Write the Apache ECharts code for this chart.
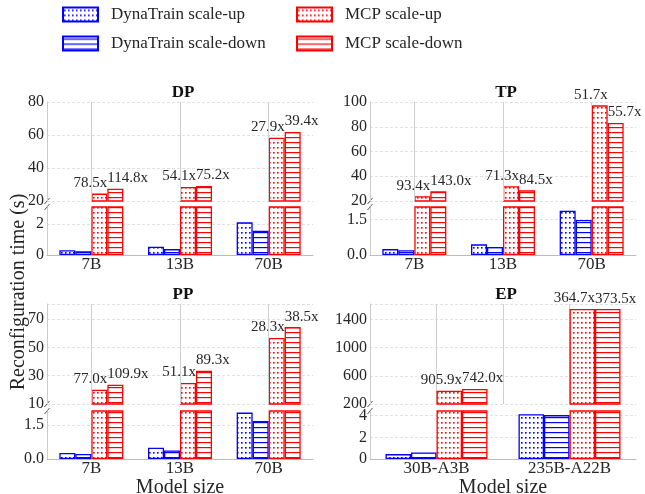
<!DOCTYPE html>
<html>
<head>
<meta charset="utf-8">
<script src="https://cdn.jsdelivr.net/npm/echarts@6/dist/echarts.min.js"></script>
<style>
  html, body { margin: 0; padding: 0; background: #fff; }
  #chart { width: 645px; height: 494px; }
</style>
</head>
<body>
<div id="chart"></div>
<script>
  // categories
  const modelSizes = ["7B", "13B", "70B"];
  const moeSizes = ["30B-A3B", "235B-A22B"];

  // DP (s)
  const dpDynaUp = [0.31, 0.53, 2.11];
  const dpDynaDown = [0.24, 0.38, 1.56];
  const dpMcpUp = [24.5, 28.5, 58.4];
  const dpMcpDown = [27.5, 29.1, 61.8];
  const dpSpeedUp = [78.5, 54.1, 27.9];
  const dpSpeedDown = [114.8, 75.2, 39.4];

  // TP
  const tpDynaUp = [0.25, 0.45, 1.87];
  const tpDynaDown = [0.2, 0.34, 1.48];
  const tpMcpUp = [23.8, 31.9, 97.3];
  const tpMcpDown = [27.8, 28.6, 83.0];
  const tpSpeedUp = [93.4, 71.3, 51.7];
  const tpSpeedDown = [143.0, 84.5, 55.7];

  // PP
  const ppDynaUp = [0.27, 0.5, 2.05];
  const ppDynaDown = [0.22, 0.38, 1.68];
  const ppMcpUp = [20.1, 24.8, 56.6];
  const ppMcpDown = [23.6, 33.5, 64.3];
  const ppSpeedUp = [77.0, 51.1, 28.3];
  const ppSpeedDown = [109.9, 89.3, 38.5];

  // EP
  const epDynaUp = [0.45, 4.13];
  const epDynaDown = [0.6, 4.05];
  const epMcpUp = [389, 1550];
  const epMcpDown = [413, 1548];
  const epSpeedUp = [905.9, 364.7];
  const epSpeedDown = [742.0, 373.5];

  const BLUE = "#0000ff";
  const RED = "#ff0000";
  const FONT = "Liberation Serif";

  // hatch fills
  function makePattern(color, kind) {
    const c = document.createElement("canvas");
    c.width = 4;
    c.height = 5;
    const ctx = c.getContext("2d");
    ctx.fillStyle = "#fff";
    ctx.fillRect(0, 0, 4, 5);
    ctx.fillStyle = color;
    if (kind === "dots") {
      ctx.fillRect(1, 2, 1.6, 1.6);
    } else {
      ctx.fillRect(0, 2, 4, 1.2);
    }
    return { image: c, repeat: "repeat" };
  }

  const kinds = [
    { name: "DynaTrain scale-up", key: "dynaUp", color: BLUE, pat: "dots" },
    { name: "DynaTrain scale-down", key: "dynaDown", color: BLUE, pat: "lines" },
    { name: "MCP scale-up", key: "mcpUp", color: RED, pat: "dots", speed: "speedUp", align: "right" },
    { name: "MCP scale-down", key: "mcpDown", color: RED, pat: "lines", speed: "speedDown", align: "left" },
  ];

  const panels = [
    {
      title: "DP", cats: modelSizes,
      dynaUp: dpDynaUp, dynaDown: dpDynaDown, mcpUp: dpMcpUp, mcpDown: dpMcpDown,
      speedUp: dpSpeedUp, speedDown: dpSpeedDown,
      topMin: 20, topMax: 80, topStep: 20, lowMax: 3.1, lowStep: 2, digits: 0,
      left: 47, top: 102, topH: 99, lowTop: 207, lowH: 48, barW: 16, xName: "",
    },
    {
      title: "TP", cats: modelSizes,
      dynaUp: tpDynaUp, dynaDown: tpDynaDown, mcpUp: tpMcpUp, mcpDown: tpMcpDown,
      speedUp: tpSpeedUp, speedDown: tpSpeedDown,
      topMin: 20, topMax: 100, topStep: 20, lowMax: 2.03, lowStep: 1.5, digits: 1,
      left: 370, top: 102, topH: 99, lowTop: 207, lowH: 48, barW: 16, xName: "",
    },
    {
      title: "PP", cats: modelSizes,
      dynaUp: ppDynaUp, dynaDown: ppDynaDown, mcpUp: ppMcpUp, mcpDown: ppMcpDown,
      speedUp: ppSpeedUp, speedDown: ppSpeedDown,
      topMin: 10, topMax: 80.6, topStep: 20, lowMax: 2.12, lowStep: 1.5, digits: 1,
      left: 47, top: 304, topH: 100, lowTop: 411, lowH: 48, barW: 16, xName: "Model size",
    },
    {
      title: "EP", cats: moeSizes,
      dynaUp: epDynaUp, dynaDown: epDynaDown, mcpUp: epMcpUp, mcpDown: epMcpDown,
      speedUp: epSpeedUp, speedDown: epSpeedDown,
      topMin: 200, topMax: 1620, topStep: 400, lowMax: 4.43, lowStep: 2, digits: 0,
      left: 370, top: 304, topH: 100, lowTop: 411, lowH: 48, barW: 25.5, xName: "Model size",
    },
  ];

  const W = 266;
  const grid = [], xAxis = [], yAxis = [], series = [], title = [], graphic = [];

  const tickLabel = { fontFamily: FONT, fontSize: 16, color: "#262626", margin: 3 };
  const splitLine = {
    show: true, showMaxLine: false,
    lineStyle: { color: "#d9d9d9", type: [3, 2], width: 0.8 },
  };
  const guideLine = { color: "#cfcfcf", type: "solid", width: 1 };

  panels.forEach((p, i) => {
    const gTop = i * 2, gLow = i * 2 + 1;
    grid.push({ left: p.left, top: p.top, width: W, height: p.topH, outerBoundsMode: "none" });
    grid.push({ left: p.left, top: p.lowTop, width: W, height: p.lowH, outerBoundsMode: "none" });

    title.push({
      text: p.title, left: p.left + W / 2 - 2, top: p.top - 23, textAlign: "center",
      textStyle: { fontFamily: FONT, fontSize: 17, fontWeight: "bold", color: "#111" },
    });

    // axis break marks
    [p.top + p.topH, p.lowTop].forEach((y) => {
      graphic.push({
        type: "line", silent: true,
        shape: { x1: p.left - 2.5, y1: y + 3, x2: p.left + 2.5, y2: y - 3 },
        style: { stroke: "#444", lineWidth: 0.9 },
      });
    });

    xAxis.push({
      type: "category", gridIndex: gTop, data: p.cats,
      axisLine: { show: false }, axisTick: { show: false }, axisLabel: { show: false },
    });
    xAxis.push({
      type: "category", gridIndex: gLow, data: p.cats,
      axisLine: { lineStyle: { color: "#bbb", width: 1 } },
      axisTick: { show: false },
      axisLabel: { fontFamily: FONT, fontSize: 17, color: "#262626", margin: 1 },
      name: p.xName, nameLocation: "middle", nameGap: 17,
      nameTextStyle: { fontFamily: FONT, fontSize: 20, color: "#262626" },
    });

    yAxis.push({
      type: "value", gridIndex: gTop, min: p.topMin, max: p.topMax, interval: p.topStep,
      axisLine: { show: true, lineStyle: { color: "#ccc" } },
      axisTick: { show: false },
      axisLabel: Object.assign({
        showMaxLabel: (p.topMax - p.topMin) % p.topStep === 0,
        formatter: (v) => String(v),
      }, tickLabel),
      splitLine: Object.assign({}, splitLine, { showMaxLine: true }),
    });
    yAxis.push({
      type: "value", gridIndex: gLow, min: 0, max: p.lowMax, interval: p.lowStep,
      axisLine: { show: true, lineStyle: { color: "#ccc" } },
      axisTick: { show: false },
      axisLabel: Object.assign({ showMaxLabel: false, formatter: (v) => v.toFixed(p.digits) }, tickLabel),
      splitLine: splitLine,
    });

    // vertical guides at the category centres (top part only)
    if (p.cats.length === 3) {
      series.push({
        type: "line", xAxisIndex: gTop, yAxisIndex: gTop, z: 1, silent: true,
        data: p.cats.map(() => "-"), showSymbol: false,
        markLine: {
          silent: true, symbol: "none", label: { show: false },
          lineStyle: guideLine,
          data: p.cats.map((c) => ({ xAxis: c })),
        },
      });
    }

    kinds.forEach((k) => {
      const vals = p[k.key];
      const itemStyle = { color: makePattern(k.color, k.pat), borderColor: k.color, borderWidth: 1.3 };
      const top = {
        name: k.name, type: "bar", xAxisIndex: gTop, yAxisIndex: gTop,
        barWidth: p.barW, barGap: "0%", z: 3,
        data: vals.map((v) => (v >= p.topMin ? v : "-")),
        itemStyle: itemStyle,
      };
      if (k.speed) {
        top.label = {
          show: true, position: "top", distance: 3, align: k.align,
          offset: [k.align === "right" ? p.barW / 2 : -p.barW / 2, 0],
          fontFamily: FONT, fontSize: 15, color: "#262626",
          formatter: (prm) => p[k.speed][prm.dataIndex].toFixed(1) + "x",
        };
      }
      series.push(top);
      series.push({
        name: k.name, type: "bar", xAxisIndex: gLow, yAxisIndex: gLow,
        barWidth: p.barW, barGap: "0%", z: 3,
        data: vals.slice(),
        itemStyle: itemStyle,
      });
    });
  });

  // EP vertical guides: hidden value axis on the EP top grid
  xAxis.push({
    type: "value", gridIndex: 6, min: 0, max: 4, interval: 1, position: "top",
    axisLine: { show: false }, axisTick: { show: false }, axisLabel: { show: false },
    splitLine: { show: true, showMinLine: false, showMaxLine: false, lineStyle: guideLine },
  });

  graphic.push({
    type: "text", x: 19, y: 292, rotation: Math.PI / 2,
    style: {
      text: "Reconfiguration time (s)", font: '20px "Liberation Serif"',
      fill: "#262626", align: "center", verticalAlign: "middle",
    },
  });

  const legendBase = {
    orient: "vertical", top: 6, padding: 0, itemWidth: 35, itemHeight: 14, itemGap: 12, icon: "rect",
    textStyle: { fontFamily: FONT, fontSize: 17, color: "#262626", padding: [0, 0, 0, 8] },
  };

  const chart = echarts.init(document.getElementById("chart"));
  chart.setOption({
    animation: false,
    backgroundColor: "#fff",
    title: title,
    legend: [
      Object.assign({ left: 62, data: ["DynaTrain scale-up", "DynaTrain scale-down"] }, legendBase),
      Object.assign({ left: 296, data: ["MCP scale-up", "MCP scale-down"] }, legendBase),
    ],
    grid: grid,
    xAxis: xAxis,
    yAxis: yAxis,
    series: series,
    graphic: graphic,
  });
</script>
</body>
</html>
